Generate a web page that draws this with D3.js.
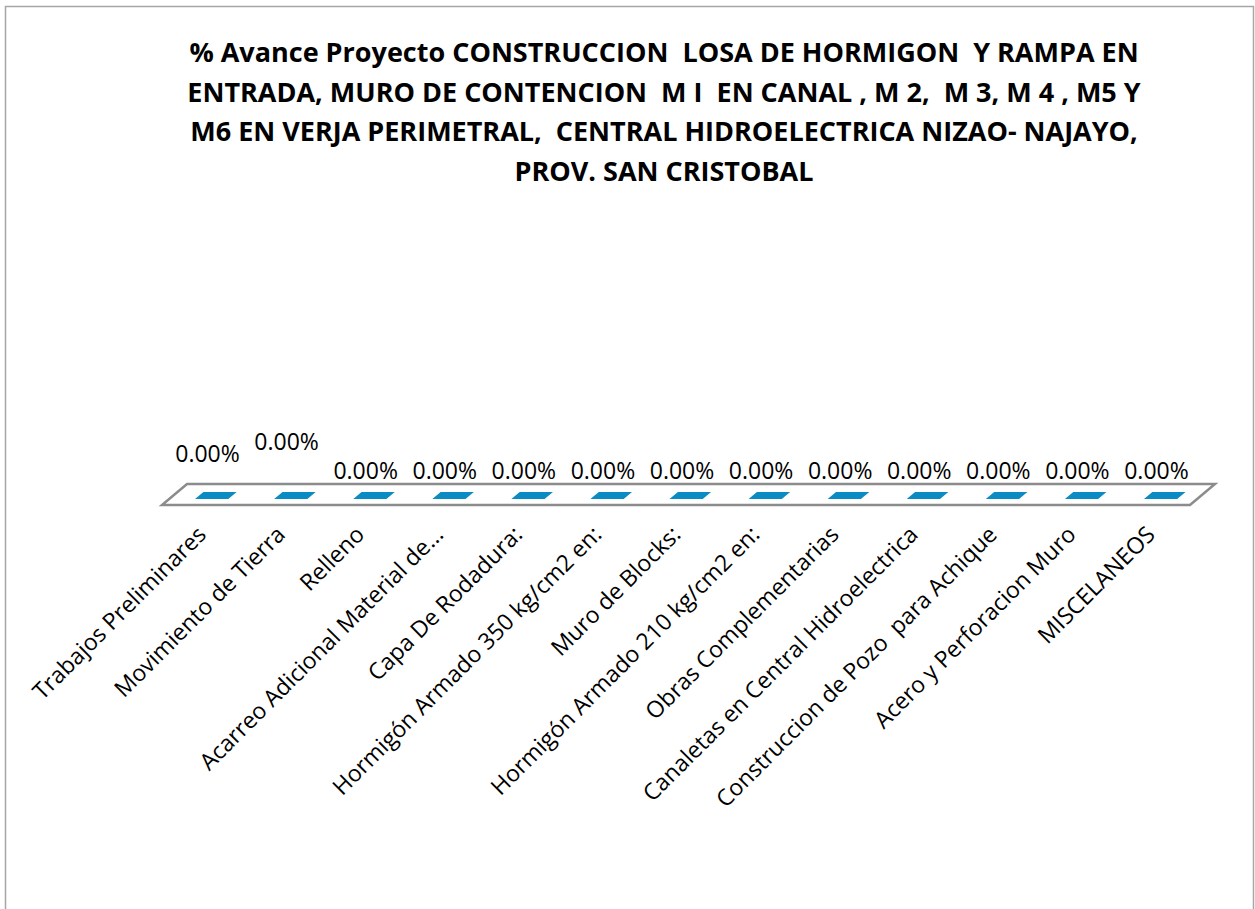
<!DOCTYPE html>
<html>
<head>
<meta charset="utf-8">
<title>% Avance Proyecto</title>
<style>
  body { margin: 0; background: #fff; }
  svg text { white-space: pre; }
</style>
</head>
<body>
<svg id="chart" width="1255" height="909"></svg>
<script src="https://d3js.org/d3.v7.min.js"></script>
<script>

// ---- data ----
var titleLines = [
  "% Avance Proyecto CONSTRUCCION  LOSA DE HORMIGON  Y RAMPA EN",
  "ENTRADA, MURO DE CONTENCION  M I  EN CANAL , M 2,  M 3, M 4 , M5 Y",
  "M6 EN VERJA PERIMETRAL,  CENTRAL HIDROELECTRICA NIZAO- NAJAYO,",
  "PROV. SAN CRISTOBAL"
];

var categories = [
  "Trabajos Preliminares",
  "Movimiento de Tierra",
  "Relleno",
  "Acarreo Adicional Material de...",
  "Capa De Rodadura:",
  "Hormigón Armado 350 kg/cm2 en:",
  "Muro de Blocks:",
  "Hormigón Armado 210 kg/cm2 en:",
  "Obras Complementarias",
  "Canaletas en Central Hidroelectrica",
  "Construccion de Pozo  para Achique",
  "Acero y Perforacion Muro",
  "MISCELANEOS"
];

var avance = [0, 0, 0, 0, 0, 0, 0, 0, 0, 0, 0, 0, 0];

// ---- layout ----
var svg = d3.select("#chart");
var font = "'Open Sans', 'Liberation Sans', sans-serif";

// chart frame (bottom runs off the picture)
svg.append("path")
    .attr("d", "M5.5,920 V6.5 H1253.5 V920")
    .attr("fill", "none")
    .attr("stroke", "#a6a6a6")
    .attr("stroke-width", 1.5);

// title
svg.append("g").selectAll("text")
    .data(titleLines)
  .enter().append("text")
    .attr("x", 664)
    .attr("y", function(d, i) { return 62 + i * 39.5; })
    .attr("text-anchor", "middle")
    .attr("font-family", font)
    .attr("font-weight", "bold")
    .attr("font-size", 27)
    .attr("fill", "#000")
    .text(function(d) { return d; });

// 3D floor: front edge along y0, depth goes up/right
var floorFront = 505, depth = 21, skew = 25;

var x = d3.scaleBand()
    .domain(categories)
    .range([162, 1190]);

var y = d3.scaleLinear()
    .domain([0, 1])
    .range([0, 300]);

// map (u along front, d depth, h height) to screen
function pt(u, d, h) {
  return [u + d * skew / depth, floorFront - d - h];
}

var floor = [pt(162, 0, 0), pt(1190, 0, 0), pt(1190, depth, 0), pt(162, depth, 0)];
svg.append("path")
    .attr("d", d3.line()(floor) + "Z")
    .attr("fill", "#fff")
    .attr("stroke", "#8c8c8c")
    .attr("stroke-width", 2.5)
    .attr("stroke-linejoin", "miter");

var barW = x.bandwidth() * 0.42;
var dFront = 6, dBack = 13;

var bars = svg.append("g");
categories.forEach(function(c, i) {
  var u0 = x(c) + (x.bandwidth() - barW) / 2 + 3;
  var u1 = u0 + barW;
  var h = y(avance[i]);
  // front face
  if (h > 0) {
    bars.append("path")
        .attr("d", d3.line()([pt(u0, dFront, 0), pt(u1, dFront, 0), pt(u1, dFront, h), pt(u0, dFront, h)]) + "Z")
        .attr("fill", "#0a7fb3");
  }
  // top face
  bars.append("path")
      .attr("d", d3.line()([pt(u0, dFront, h), pt(u1, dFront, h), pt(u1, dBack, h), pt(u0, dBack, h)]) + "Z")
      .attr("fill", "#0b8bc4");
});

// data labels (first two lifted to avoid overlap, as in the original)
var lift = [17, 29];
svg.append("g").selectAll("text")
    .data(avance)
  .enter().append("text")
    .attr("x", function(d, i) { return x(categories[i]) + x.bandwidth() / 2 + 6; })
    .attr("y", function(d, i) { return floorFront - 26 - y(d) - (lift[i] || 0); })
    .attr("text-anchor", "middle")
    .attr("font-family", font)
    .attr("font-size", 23)
    .attr("fill", "#000")
    .text(function(d) { return d3.format(".2%")(d); });

// category labels, rotated
svg.append("g").selectAll("text")
    .data(categories)
  .enter().append("text")
    .attr("transform", function(d) {
      return "translate(" + (x(d) + x.bandwidth() / 2 + 6) + ",536) rotate(-45)";
    })
    .attr("text-anchor", "end")
    .attr("font-family", font)
    .attr("font-size", 23)
    .attr("fill", "#000")
    .text(function(d) { return d; });

</script>
</body>
</html>
